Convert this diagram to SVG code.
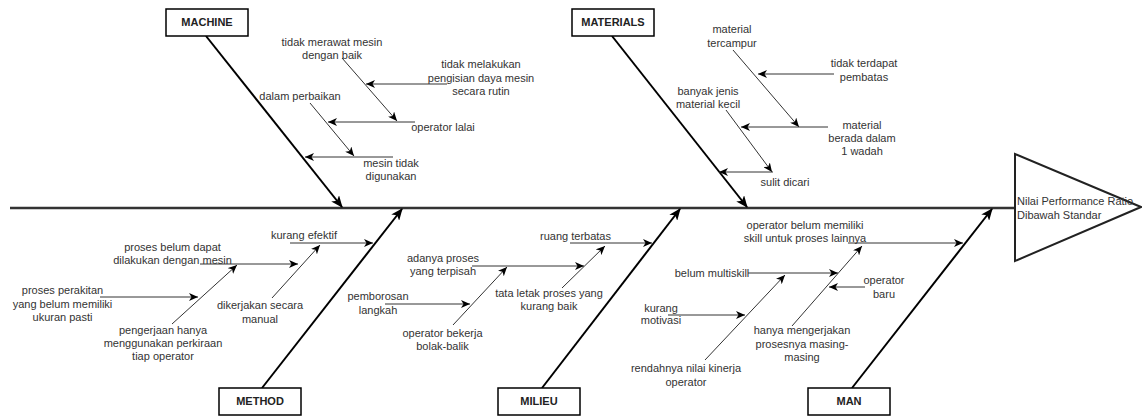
<svg xmlns="http://www.w3.org/2000/svg" width="1142" height="416" viewBox="0 0 1142 416">
<style>
.lbl{font-family:"Liberation Sans",Arial,sans-serif;font-size:11px;fill:#333;text-anchor:middle}
.hd{font-family:"Liberation Sans",Arial,sans-serif;font-size:11px;fill:#333}
.box{fill:#fff;stroke:#000;stroke-width:1.5}
.bt{font-family:"Liberation Sans",Arial,sans-serif;font-size:11px;font-weight:bold;fill:#222;text-anchor:middle}
.main{stroke:#000;stroke-width:2;fill:none;marker-end:url(#big)}
.sub{stroke:#333;stroke-width:1;fill:none;marker-end:url(#sm)}
</style>
<defs>
<marker id="big" markerUnits="userSpaceOnUse" markerWidth="12" markerHeight="10" refX="11" refY="5" orient="auto">
<path d="M0,0 L12,5 L0,10 L3,5 z" fill="#000"/>
</marker>
<marker id="sm" markerUnits="userSpaceOnUse" markerWidth="9" markerHeight="8" refX="9" refY="4" orient="auto">
<path d="M0,0 L9,4 L0,8 L2.5,4 z" fill="#000"/>
</marker>
</defs>
<rect width="1142" height="416" fill="#fff"/>
<g id="connectors">
<line x1="10" y1="208" x2="1015" y2="208" stroke="#333" stroke-width="2.5"/>
<line class="main" x1="206" y1="36" x2="342" y2="207"/>
<line class="main" x1="612" y1="36" x2="747" y2="207"/>
<line class="main" x1="262" y1="388" x2="402" y2="209"/>
<line class="main" x1="542" y1="388" x2="680" y2="209"/>
<line class="main" x1="852" y1="388" x2="992" y2="209"/>
<line class="sub" x1="342" y1="58" x2="397" y2="121"/>
<line class="sub" x1="447" y1="84" x2="366" y2="84"/>
<line class="sub" x1="415" y1="122" x2="328" y2="122"/>
<line class="sub" x1="310" y1="103" x2="354" y2="156"/>
<line class="sub" x1="393" y1="157" x2="305" y2="157"/>
<line class="sub" x1="733" y1="50" x2="799" y2="127"/>
<line class="sub" x1="834" y1="74" x2="758" y2="74"/>
<line class="sub" x1="726" y1="110" x2="772" y2="172"/>
<line class="sub" x1="828" y1="127" x2="741" y2="127"/>
<line class="sub" x1="773" y1="172" x2="719" y2="172"/>
<line class="sub" x1="200" y1="264" x2="298" y2="264"/>
<line class="sub" x1="100" y1="297" x2="198" y2="297"/>
<line class="sub" x1="172" y1="324" x2="237" y2="265"/>
<line class="sub" x1="290" y1="243" x2="373" y2="243"/>
<line class="sub" x1="272" y1="298" x2="320" y2="245"/>
<line class="sub" x1="570" y1="243" x2="652" y2="243"/>
<line class="sub" x1="472" y1="266" x2="584" y2="266"/>
<line class="sub" x1="385" y1="304" x2="470" y2="304"/>
<line class="sub" x1="453" y1="325" x2="507" y2="267"/>
<line class="sub" x1="562" y1="288" x2="605" y2="246"/>
<line class="sub" x1="848" y1="243" x2="963" y2="243"/>
<line class="sub" x1="748" y1="273" x2="838" y2="273"/>
<line class="sub" x1="668" y1="315" x2="745" y2="315"/>
<line class="sub" x1="705" y1="360" x2="785" y2="275"/>
<line class="sub" x1="865" y1="287" x2="829" y2="287"/>
<line class="sub" x1="792" y1="326" x2="862" y2="246"/>
</g>
<g id="head">
<path d="M1015,154 L1141,207 L1015,261 Z" fill="#fff" stroke="#222" stroke-width="2"/>
<text class="hd"><tspan x="1017" y="205">Nilai Performance Ratio</tspan><tspan x="1017" y="219">Dibawah Standar</tspan></text>
</g>
<g id="machine"><rect class="box" x="166" y="9" width="82" height="27"/><text class="bt" x="207" y="26">MACHINE</text></g>
<g id="materials"><rect class="box" x="572" y="9" width="82" height="27"/><text class="bt" x="613" y="26">MATERIALS</text></g>
<g id="method"><rect class="box" x="219" y="388" width="82" height="27"/><text class="bt" x="260" y="405">METHOD</text></g>
<g id="milieu"><rect class="box" x="498" y="388" width="82" height="27"/><text class="bt" x="539" y="405">MILIEU</text></g>
<g id="man"><rect class="box" x="808" y="388" width="82" height="27"/><text class="bt" x="849" y="405">MAN</text></g>
<g id="machine-causes">
<text class="lbl"><tspan x="332" y="46">tidak merawat mesin</tspan><tspan x="332" y="59">dengan baik</tspan></text>
<text class="lbl"><tspan x="481" y="68">tidak melakukan</tspan><tspan x="481" y="81.5">pengisian daya mesin</tspan><tspan x="481" y="95">secara rutin</tspan></text>
<text class="lbl" x="443" y="131">operator lalai</text>
<text class="lbl" x="300" y="100">dalam perbaikan</text>
<text class="lbl"><tspan x="391" y="167">mesin tidak</tspan><tspan x="391" y="180">digunakan</tspan></text>
</g>
<g id="materials-causes">
<text class="lbl"><tspan x="732" y="33">material</tspan><tspan x="732" y="47">tercampur</tspan></text>
<text class="lbl"><tspan x="864" y="67">tidak terdapat</tspan><tspan x="864" y="81">pembatas</tspan></text>
<text class="lbl"><tspan x="708" y="95">banyak jenis</tspan><tspan x="708" y="107.5">material kecil</tspan></text>
<text class="lbl"><tspan x="862" y="129">material</tspan><tspan x="862" y="142">berada dalam</tspan><tspan x="862" y="155">1 wadah</tspan></text>
<text class="lbl" x="785" y="186">sulit dicari</text>
</g>
<g id="method-causes">
<text class="lbl"><tspan x="172.5" y="251">proses belum dapat</tspan><tspan x="172.5" y="264">dilakukan dengan mesin</tspan></text>
<text class="lbl"><tspan x="62.5" y="294">proses perakitan</tspan><tspan x="62.5" y="307.5">yang belum memiliki</tspan><tspan x="62.5" y="321">ukuran pasti</tspan></text>
<text class="lbl"><tspan x="163" y="333.5">pengerjaan hanya</tspan><tspan x="163" y="347">menggunakan perkiraan</tspan><tspan x="163" y="360">tiap operator</tspan></text>
<text class="lbl" x="304" y="238.5">kurang efektif</text>
<text class="lbl"><tspan x="260" y="309">dikerjakan secara</tspan><tspan x="260" y="322.5">manual</tspan></text>
</g>
<g id="milieu-causes">
<text class="lbl" x="575.5" y="240">ruang terbatas</text>
<text class="lbl"><tspan x="443" y="261.5">adanya proses</tspan><tspan x="443" y="275">yang terpisah</tspan></text>
<text class="lbl"><tspan x="378" y="300">pemborosan</tspan><tspan x="378" y="313.5">langkah</tspan></text>
<text class="lbl"><tspan x="442.5" y="336.5">operator bekerja</tspan><tspan x="442.5" y="350">bolak-balik</tspan></text>
<text class="lbl"><tspan x="549" y="297">tata letak proses yang</tspan><tspan x="549" y="310">kurang baik</tspan></text>
</g>
<g id="man-causes">
<text class="lbl"><tspan x="805" y="229">operator belum memiliki</tspan><tspan x="805" y="242">skill untuk proses lainnya</tspan></text>
<text class="lbl" x="712" y="276.5">belum multiskill</text>
<text class="lbl"><tspan x="661" y="311.5">kurang</tspan><tspan x="661" y="324">motivasi</tspan></text>
<text class="lbl"><tspan x="686" y="372">rendahnya nilai kinerja</tspan><tspan x="686" y="386">operator</tspan></text>
<text class="lbl"><tspan x="884" y="284">operator</tspan><tspan x="884" y="297.5">baru</tspan></text>
<text class="lbl"><tspan x="802" y="334">hanya mengerjakan</tspan><tspan x="802" y="348">prosesnya masing-</tspan><tspan x="802" y="361">masing</tspan></text>
</g>
</svg>
